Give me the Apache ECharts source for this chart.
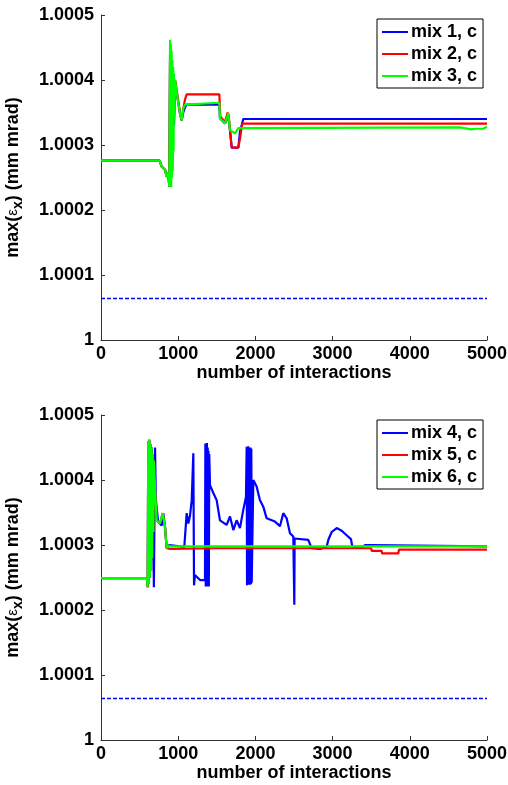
<!DOCTYPE html>
<html><head><meta charset="utf-8">
<script src="https://cdn.jsdelivr.net/npm/echarts@6/dist/echarts.min.js"></script>
<style>html,body{margin:0;padding:0;background:#fff}#c{width:508px;height:785px}</style>
</head><body><div id="c"></div>
<script>
// ---- data (y values in absolute units) ----
const xTicks = [0, 1000, 2000, 3000, 4000, 5000];
const yTicks = [1, 1.0001, 1.0002, 1.0003, 1.0004, 1.0005];
const refLevel = 1.000064;

// top panel
const mix1X = [0,760,785,830,850,870,885,895,905,915,925,935,945,960,980,1023,1045,1066,1088,1110,1533,1541,1606,1649,1671,1693,1779,1800,1843,5000];
const mix1Y = [1.000276,1.000276,1.000267,1.000262,1.000251,1.000257,1.000236,1.00044,1.00025,1.00042,1.00028,1.0004,1.00033,1.00039,1.00038,1.000349,1.000338,1.00035,1.000358,1.000362,1.000362,1.000341,1.000333,1.000345,1.000323,1.000296,1.000296,1.00032,1.00034,1.00034];
const mix2X = [0,760,785,830,850,870,885,895,905,915,925,935,945,960,980,1023,1045,1066,1088,1110,1533,1545,1606,1640,1655,1671,1693,1779,1800,1830,5000];
const mix2Y = [1.000276,1.000276,1.000267,1.000262,1.000251,1.000257,1.000236,1.00045,1.00026,1.00043,1.00029,1.00041,1.00034,1.0004,1.000385,1.000349,1.000338,1.000356,1.00037,1.000378,1.000378,1.000344,1.000335,1.00035,1.000345,1.000323,1.000296,1.000296,1.00031,1.000333,1.000333];
const mix3X = [0,760,785,830,850,870,885,895,900,905,910,915,920,925,930,935,940,945,950,960,980,1000,1023,1045,1066,1088,1110,1533,1541,1606,1649,1671,1693,1736,1779,1800,4650,4660,4800,4810,4850,4950,4960,5000];
const mix3Y = [1.000276,1.000276,1.000267,1.000262,1.000251,1.000257,1.000236,1.000462,1.00024,1.000455,1.000235,1.000445,1.00025,1.00043,1.00026,1.00042,1.00029,1.00041,1.00034,1.0004,1.000382,1.000365,1.000349,1.000338,1.000356,1.000362,1.000365,1.000365,1.000341,1.000333,1.000349,1.000323,1.000323,1.000318,1.000326,1.000327,1.000327,1.000324,1.000324,1.000326,1.000325,1.000325,1.000328,1.000328];

// bottom panel
const mix4X = [0,595,605,612,618,625,632,640,648,655,662,670,678,685,700,710,740,786,807,829,851,880,1079,1110,1131,1153,1175,1196,1205,1217,1282,1347,1352,1357,1362,1367,1372,1377,1382,1387,1392,1397,1402,1412,1455,1498,1541,1628,1671,1714,1757,1800,1843,1878,1887,1892,1897,1902,1907,1912,1917,1922,1927,1932,1937,1942,1947,1952,1973,2016,2059,2102,2146,2167,2253,2318,2361,2405,2448,2491,2504,2508,2513,2685,2729,2746,2837,2923,2945,2988,3053,3118,3182,3238,3256,3394,3420,3485,3500,5000];
const mix4Y = [1.000249,1.000249,1.000235,1.00046,1.00024,1.000462,1.00025,1.000455,1.00026,1.00045,1.00028,1.00044,1.00032,1.000235,1.00045,1.00037,1.000336,1.00033,1.000349,1.000328,1.000295,1.0003,1.000297,1.000349,1.000333,1.000345,1.000369,1.000441,1.000238,1.000254,1.000246,1.000246,1.000456,1.000236,1.000455,1.00024,1.000457,1.000236,1.00045,1.00024,1.000445,1.000236,1.00044,1.000392,1.00038,1.000369,1.000338,1.000331,1.000344,1.000323,1.000338,1.000326,1.000354,1.000374,1.000451,1.000238,1.000451,1.000239,1.000452,1.00024,1.00045,1.000239,1.00045,1.000239,1.00045,1.00024,1.000448,1.000242,1.0004,1.00039,1.000369,1.000359,1.000341,1.000341,1.000336,1.000329,1.000349,1.000341,1.000318,1.000313,1.000208,1.00031,1.00031,1.000308,1.000295,1.000294,1.000294,1.000297,1.000308,1.00032,1.000326,1.000322,1.000315,1.000309,1.000297,1.000297,1.0003,1.0003,1.000298,1.000298];
const mix5X = [0,595,605,612,618,625,632,640,648,655,662,670,678,685,700,721,764,799,829,851,900,1500,2000,3500,3506,3636,3640,3851,3860,5000];
const mix5Y = [1.000249,1.000249,1.000235,1.00046,1.00024,1.000462,1.00025,1.000455,1.00026,1.00045,1.00028,1.00044,1.00032,1.00043,1.000385,1.000338,1.000333,1.000349,1.000328,1.000295,1.000294,1.000295,1.000295,1.000295,1.000291,1.000291,1.000287,1.000287,1.000293,1.000293];
const mix6X = [0,595,605,612,618,625,632,640,648,655,662,670,678,685,700,721,764,780,799,829,851,870,900,1000,5000];
const mix6Y = [1.000249,1.000249,1.000235,1.00046,1.00024,1.000462,1.00025,1.000455,1.00026,1.00045,1.00028,1.00044,1.00032,1.00043,1.000385,1.000338,1.000333,1.00033,1.000349,1.000328,1.000295,1.000299,1.000298,1.000298,1.000298];

const zip = (xs, ys) => xs.map((x, i) => [x, ys[i]]);
const refData = [[xTicks[0], refLevel], [xTicks[xTicks.length - 1], refLevel]];

const FONT = 'Liberation Sans, Arial, sans-serif';
const FS = 18;
const grids = [
  { left: 101, right: 21, top: 15, height: 325, outerBoundsMode: 'none', containLabel: false },
  { left: 101, right: 21, top: 415, height: 325, outerBoundsMode: 'none', containLabel: false }
];

function xAxis(gi) {
  return {
    type: 'value', gridIndex: gi, min: xTicks[0], max: xTicks[xTicks.length - 1], interval: 1000,
    name: 'number of interactions', nameLocation: 'middle', nameGap: 24,
    nameTextStyle: { fontFamily: FONT, fontWeight: 'bold', fontSize: FS, color: '#000' },
    axisLine: { show: true, lineStyle: { color: '#333', width: 1 } },
    axisTick: { show: true, inside: true, length: 4, lineStyle: { color: '#333' } },
    axisLabel: { fontFamily: FONT, fontWeight: 'bold', fontSize: FS, color: '#000', margin: 5,
      formatter: v => String(Math.round(v)) },
    splitLine: { show: false }
  };
}
function yAxis(gi) {
  return {
    type: 'value', gridIndex: gi, min: yTicks[0], max: yTicks[yTicks.length - 1], interval: 0.0001,
    name: '{a|max(}{e|ε}{s|x}{a|) (mm mrad)}', nameLocation: 'middle', nameGap: 76,
    nameTextStyle: {
      rich: {
        a: { fontFamily: FONT, fontWeight: 'bold', fontSize: FS, color: '#000' },
        e: { fontFamily: FONT, fontSize: 15, color: '#000' },
        s: { fontFamily: FONT, fontWeight: 'bold', fontSize: 14, color: '#000', padding: [10, 0, 0, 0] }
      }
    },
    axisLine: { show: true, lineStyle: { color: '#333', width: 1 } },
    axisTick: { show: true, inside: true, length: 4, lineStyle: { color: '#333' } },
    axisLabel: {
      fontFamily: FONT, fontWeight: 'bold', fontSize: FS, color: '#000', margin: 7,
      formatter: v => Math.abs(v - 1) < 1e-9 ? '1' : v.toFixed(4)
    },
    splitLine: { show: false }
  };
}
function line(name, data, color, gi) {
  return { name, type: 'line', xAxisIndex: gi, yAxisIndex: gi, data, showSymbol: false, symbol: 'none',
    lineStyle: { color, width: 2.2 }, itemStyle: { color }, animation: false };
}
function ref(gi) {
  return { type: 'line', xAxisIndex: gi, yAxisIndex: gi, data: refData, symbol: 'none', silent: true,
    lineStyle: { color: '#0000ff', width: 1.5, type: [4, 2] }, animation: false };
}
function legend(top, names) {
  return { orient: 'vertical', left: 377, top, data: names, icon: 'rect', itemWidth: 26, itemHeight: 2, itemGap: 4,
    padding: [4, 6, 3, 5], borderColor: '#000', borderWidth: 1, backgroundColor: '#fff',
    textStyle: { fontFamily: FONT, fontWeight: 'bold', fontSize: FS, color: '#000', padding: [0, 0, 0, -2] } };
}

const chart = echarts.init(document.getElementById('c'), null, { renderer: 'canvas' });
chart.setOption({
  animation: false,
  grid: grids,
  xAxis: [xAxis(0), xAxis(1)],
  yAxis: [yAxis(0), yAxis(1)],
  legend: [legend(19, ['mix 1, c', 'mix 2, c', 'mix 3, c']), legend(420, ['mix 4, c', 'mix 5, c', 'mix 6, c'])],
  series: [
    ref(0),
    line('mix 1, c', zip(mix1X, mix1Y), '#0000ff', 0),
    line('mix 2, c', zip(mix2X, mix2Y), '#ff0000', 0),
    line('mix 3, c', zip(mix3X, mix3Y), '#00ff00', 0),
    ref(1),
    line('mix 4, c', zip(mix4X, mix4Y), '#0000ff', 1),
    line('mix 5, c', zip(mix5X, mix5Y), '#ff0000', 1),
    line('mix 6, c', zip(mix6X, mix6Y), '#00ff00', 1)
  ]
});
</script></body></html>
